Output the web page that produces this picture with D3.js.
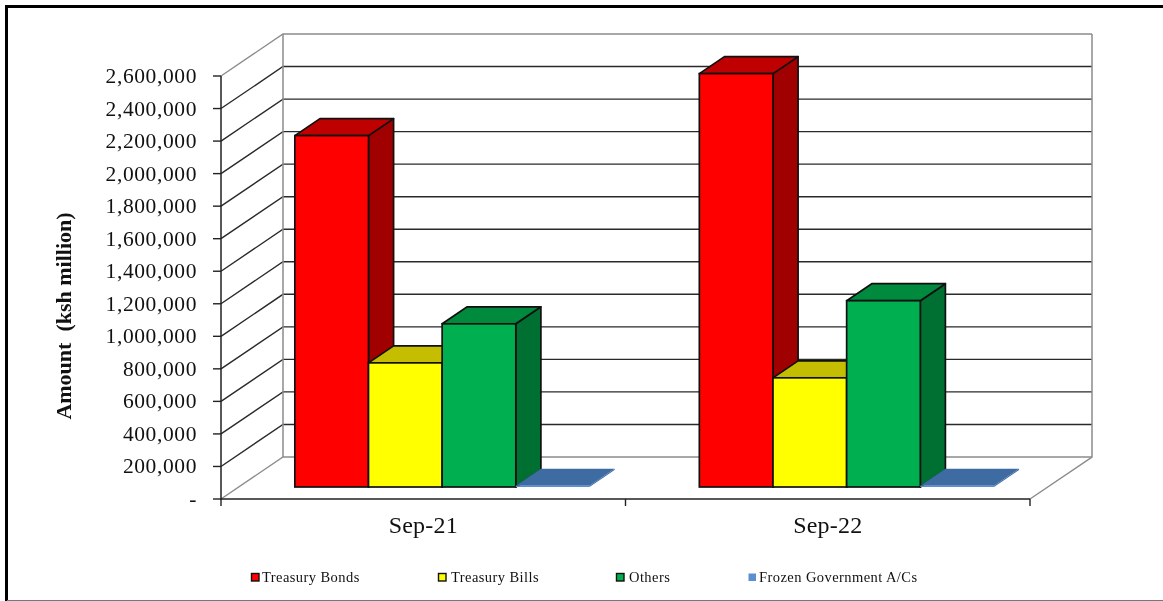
<!DOCTYPE html>
<html><head><meta charset="utf-8">
<script src="https://cdn.jsdelivr.net/npm/d3@7"></script>
<style>html,body{margin:0;padding:0;background:#fff}svg{display:block;filter:blur(0.35px)}text{font-family:"Liberation Serif",serif;fill:#111}</style>
</head><body><svg id="c" width="1163" height="601"></svg>
<script>
const categories = ["Sep-21","Sep-22"];
const seriesNames = ["Treasury Bonds","Treasury Bills","Others","Frozen Government A/Cs"];
const treasuryBonds = [2160000, 2541000];
const treasuryBills = [763000, 671000];
const others = [1003000, 1145000];
const frozen = [8000, 8000];
const yTicks = [0,200000,400000,600000,800000,1000000,1200000,1400000,1600000,1800000,2000000,2200000,2400000,2600000];
const seriesValues = [treasuryBonds, treasuryBills, others, frozen];
const front = ["#ff0000","#ffff00","#00b050","#5b8fd2"];
const top3d = ["#bf0000","#c4bd00","#008a3e","#3f6ba3"];
const side = ["#a00000","#a0a000","#006f32","#3f6ba3"];

const svg = d3.select("#c");
const W = 221, H = 499, R = 1030, T = 76, DX = 62, DY = 42;
const x0 = d3.scaleBand().domain(categories).range([W, R]);
const x1 = d3.scaleBand().domain(seriesNames).range([0, x0.bandwidth()]).paddingOuter(0.746).paddingInner(0);
const y = d3.scaleLinear().domain([0, 2600000]).range([H, T]);
const zFront = 12.8/DY, zBack = 29.8/DY;

// walls and gridlines
const g = svg.append("g");
yTicks.forEach(t=>{
  const yy = y(t), edge = t===2600000 || t===0;
  const c = edge ? "#8c8c8c" : "#2a2a2a";
  g.append("path").attr("fill","none").attr("stroke",c).attr("stroke-width",1.4)
   .attr("d",`M${W},${yy}L${W+DX},${yy-DY}L${R+DX},${yy-DY}`);
});
g.append("path").attr("fill","none").attr("stroke","#8c8c8c").attr("stroke-width",1.5)
 .attr("d",`M${W+DX},${y(2600000)-DY}V${H-DY}M${R+DX},${y(2600000)-DY}V${H-DY}L${R},${H}`);
// axes
g.append("path").attr("fill","none").attr("stroke","#222").attr("stroke-width",1.5)
 .attr("d",`M${W},${T}V${H}H${R}`);
yTicks.forEach(t=>{
  g.append("line").attr("x1",W-8).attr("x2",W).attr("y1",y(t)).attr("y2",y(t)).attr("stroke","#222").attr("stroke-width",1.4);
  g.append("text").attr("x",197).attr("y",y(t)+7).attr("text-anchor","end").attr("font-size",21.5).attr("letter-spacing",0.6)
   .text(t===0?"-":d3.format(",")(t));
});
[W,W+x0.bandwidth(),R].forEach(px=>g.append("line").attr("x1",px).attr("x2",px).attr("y1",H).attr("y2",H+7).attr("stroke","#222").attr("stroke-width",1.4));
categories.forEach(c=>g.append("text").attr("x",x0(c)+x0.bandwidth()/2).attr("y",533).attr("text-anchor","middle").attr("font-size",24).attr("letter-spacing",0.2).text(c));
g.append("text").attr("transform","translate(71,316) rotate(-90)").attr("text-anchor","middle").attr("font-size",22).attr("font-weight","bold").style("white-space","pre").text("Amount  (ksh million)");

// bars: painted left to right, so each bar's front covers the side of the bar before it
const ox = zFront*DX, oy = 12, dx = (zBack-zFront)*DX, dy = (zBack-zFront)*DY;
const bars = svg.append("g");
categories.forEach(c=>{
  seriesNames.forEach((name,si)=>{
    const v = seriesValues[si][categories.indexOf(c)];
    const xl = x0(c)+x1(name)+ox, xr = xl+x1.bandwidth();
    const yb = y(0)-oy, yt = y(v)-oy;
    const frozenBar = si===3;
    const sw = frozenBar?0:1.7, st = frozenBar?"none":"#111";
    bars.append("path").attr("fill",side[si]).attr("stroke",st).attr("stroke-width",sw).attr("stroke-linejoin","round")
      .attr("d",`M${xr},${yb}L${xr+dx},${yb-dy}L${xr+dx},${yt-dy}L${xr},${yt}Z`);
    bars.append("path").attr("fill",top3d[si]).attr("stroke",st).attr("stroke-width",sw).attr("stroke-linejoin","round")
      .attr("d",`M${xl},${yt}L${xl+dx},${yt-dy}L${xr+dx},${yt-dy}L${xr},${yt}Z`);
    bars.append("rect").attr("x",xl).attr("y",yt).attr("width",xr-xl).attr("height",yb-yt).attr("fill",front[si]).attr("stroke",st).attr("stroke-width",sw);
  });
});

// legend
const legendX = [251,438,616,748];
const legendTextX = [262,451,629,759];
seriesNames.forEach((n,i)=>{
  const l = svg.append("g");
  l.append("rect").attr("x",legendX[i]+.5).attr("y",573.5).attr("width",7.5).attr("height",7.5).attr("fill",front[i]).attr("stroke",i===3?"none":"#111").attr("stroke-width",1.4);
  l.append("text").attr("x",legendTextX[i]).attr("y",582).attr("font-size",14.5).attr("letter-spacing",0.43).text(n);
});

// frame
svg.append("path").attr("fill","none").attr("stroke","#000").attr("stroke-width",3).attr("d","M6.5,601V6.5H1163");
svg.append("line").attr("x1",7).attr("x2",1163).attr("y1",600.5).attr("y2",600.5).attr("stroke","#777").attr("stroke-width",1);
</script></body></html>
